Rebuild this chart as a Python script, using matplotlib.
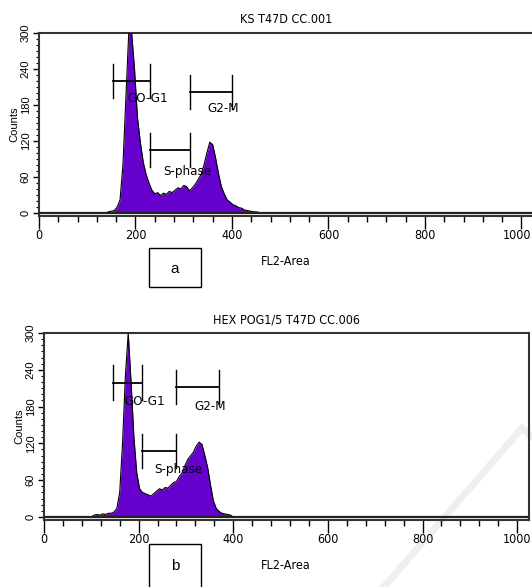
import matplotlib
matplotlib.use("Agg")
import matplotlib.pyplot as plt
from matplotlib.lines import Line2D
from matplotlib.patches import Rectangle
from matplotlib.ticker import MultipleLocator
from matplotlib.transforms import ScaledTranslation

# condensed face for the cytometer-style labels
NARROW = dict(family="DejaVu Sans", stretch="condensed")
SANS = ["Liberation Sans", "DejaVu Sans"]
FILL = "#6600cc"

# panel a: KS T47D CC.001
chan_a = [138, 144, 150, 156, 162, 168, 174, 180, 186, 192, 198, 204, 210, 216,
          222, 228, 234, 240, 246, 252, 258, 264, 270, 276, 282, 288, 294, 300,
          306, 312, 318, 324, 330, 336, 342, 348, 354, 360, 366, 372, 378, 384,
          390, 396, 402, 408, 414, 420, 426, 432, 438, 444, 450, 456, 462]
counts_a = [0, 2, 3, 4, 10, 22, 80, 190, 300, 300, 240, 160, 118, 85,
            64, 50, 38, 32, 34, 29, 33, 31, 36, 34, 38, 42, 40, 46,
            44, 37, 42, 48, 56, 64, 80, 100, 118, 114, 92, 66, 44, 32,
            22, 18, 14, 12, 9, 8, 5, 4, 3, 2, 2, 1, 0]
# gates: (name, lo, hi, level), label position
gates_a = [("GO-G1", 153, 230, 220), ("S-phase", 230, 313, 105), ("G2-M", 313, 401, 202)]
labels_a = [("GO-G1", 226, 190), ("S-phase", 308, 70), ("G2-M", 382, 175)]

# panel b: HEX POG1/5 T47D CC.006
chan_b = [100, 106, 112, 118, 124, 130, 136, 142, 148, 154, 160, 166, 172, 178,
          184, 190, 196, 202, 208, 214, 220, 226, 232, 238, 244, 250, 256, 262,
          268, 274, 280, 286, 292, 298, 304, 310, 316, 322, 328, 334, 340, 346,
          352, 358, 364, 370, 376, 382, 388, 394, 400]
counts_b = [0, 3, 4, 3, 5, 4, 6, 6, 8, 14, 40, 120, 230, 300,
            220, 130, 72, 46, 40, 38, 36, 34, 38, 42, 46, 44, 48, 47,
            52, 56, 58, 66, 72, 84, 94, 100, 106, 116, 122, 118, 100, 80,
            52, 26, 14, 9, 6, 5, 4, 3, 0]
gates_b = [("GO-G1", 145, 208, 219), ("S-phase", 208, 280, 108), ("G2-M", 280, 369, 212)]
labels_b = [("GO-G1", 212, 189), ("S-phase", 285, 77), ("G2-M", 351, 180)]

W, H = 532, 587
fig = plt.figure(figsize=(W / 100, H / 100), dpi=100)

# faint watermark strokes
fig.add_artist(Line2D([383 / W, 522 / W, 533 / W], [1 - 588 / H, 1 - 428 / H, 1 - 438 / H],
                      color="#efefef", lw=5, solid_joinstyle="miter", zorder=0))


def px(x0, y0, x1, y1):
    return [x0 / W, 1 - y1 / H, (x1 - x0) / W, (y1 - y0) / H]


def panel(rect, chan, counts, gates, labels, title, show_right, nudge_last):
    ax = fig.add_axes(rect)
    ax.patch.set_visible(False)
    ax.fill_between(chan, counts, 0, color=FILL, lw=0, zorder=2)
    ax.plot(chan, counts, color="black", lw=0.8, zorder=3)
    ax.axhline(0, color="#222222", lw=1.6, zorder=3)
    for name, lo, hi, lev in gates:
        ax.plot([lo, hi], [lev, lev], color="black", lw=1.3, zorder=4)
        for xx in (lo, hi):
            ax.plot([xx, xx], [lev - 28, lev + 28], color="black", lw=1.0, zorder=4)
    for name, x, y in labels:
        ax.text(x, y, name, ha="center", va="center", fontsize=9.5, zorder=5, **NARROW)
    ax.set_xlim(0, 1024)
    ax.set_ylim(-5, 300)
    ax.xaxis.set_major_locator(MultipleLocator(200))
    ax.xaxis.set_minor_locator(MultipleLocator(40))
    ax.yaxis.set_major_locator(MultipleLocator(60))
    ax.yaxis.set_minor_locator(MultipleLocator(10))
    ax.tick_params(axis="x", which="major", length=9, width=1, direction="out", pad=0.5)
    ax.tick_params(axis="x", which="minor", length=4, width=1, direction="out")
    ax.tick_params(axis="y", which="major", length=4, width=1, direction="out", pad=2)
    ax.tick_params(axis="y", which="minor", length=2.5, width=0.8, direction="out")
    ax.figure.canvas.draw()
    xlabs = ax.get_xticklabels()
    for lab in xlabs:
        lab.set_family(NARROW["family"])
        lab.set_stretch(NARROW["stretch"])
        lab.set_fontsize(9)
    # keep the 1000 label inside the picture
    if nudge_last:
        for lab in xlabs:
            if lab.get_text() == "1000":
                lab.set_transform(lab.get_transform()
                                  + ScaledTranslation(-4 / 100, 0, fig.dpi_scale_trans))
    for lab in ax.get_yticklabels():
        lab.set_family(SANS)
        lab.set_fontsize(8)
        lab.set_rotation(90)
        lab.set_va("center")
    ax.set_ylabel("Counts", fontsize=8, family=SANS, labelpad=1)
    ax.set_xlabel("FL2-Area", fontsize=9, labelpad=9, **NARROW)
    ax.set_title(title, fontsize=9, pad=7, **NARROW)
    for sp in ax.spines.values():
        sp.set_linewidth(1.5)
        sp.set_color("#333333")
    ax.spines["right"].set_visible(show_right)
    return ax


ax_a = panel(px(39, 33, 533, 216), chan_a, counts_a, gates_a, labels_a,
             "KS T47D CC.001", False, True)
ax_b = panel(px(44, 333, 528.5, 520), chan_b, counts_b, gates_b, labels_b,
             "HEX POG1/5 T47D CC.006", True, False)

# panel tags in boxes
for tag, (x0, y0, x1, y1) in (("a", (149, 248, 201, 287)), ("b", (149, 544, 201, 590))):
    fig.add_artist(Rectangle((x0 / W, 1 - y1 / H), (x1 - x0) / W, (y1 - y0) / H,
                             transform=fig.transFigure, fill=False, ec="black", lw=1.0))
    fig.text((x0 + x1) / 2 / W, 1 - ((y0 + min(y1, 587)) / 2 + 1) / H, tag,
             ha="center", va="center", fontsize=11, family=SANS)

fig.savefig("out.png", dpi=100)
